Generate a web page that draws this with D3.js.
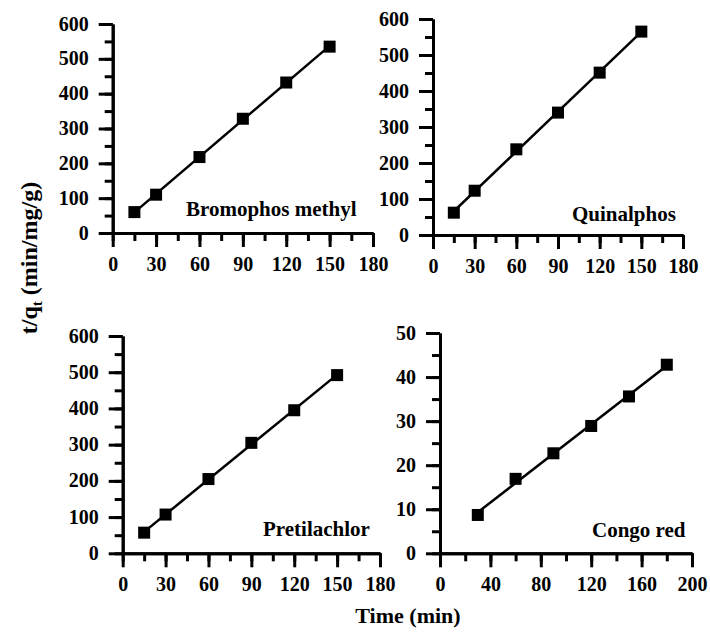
<!DOCTYPE html>
<html>
<head>
<meta charset="utf-8">
<script src="https://cdn.jsdelivr.net/npm/d3@7"></script>
<style>
  body { margin: 0; background: #fff; }
  svg { display: block; }
  text { font-family: "Liberation Serif", "Times New Roman", serif; font-weight: bold; fill: #000; }
</style>
</head>
<body>
<svg width="710" height="634"></svg>
<script>
// sampling times (min)
const times = [15, 30, 60, 90, 120, 150];
const congoTimes = [30, 60, 90, 120, 150, 180];

// t/qt values
const bromophos = [60, 110, 218, 328, 432, 535];
const quinalphos = [62, 123, 238, 340, 451, 565];
const pretilachlor = [57, 107, 205, 305, 395, 492];
const congoRed = [8.7, 16.9, 22.7, 28.9, 35.6, 42.8];

const names = ["Bromophos methyl", "Quinalphos", "Pretilachlor", "Congo red"];
const xs = [times, times, times, congoTimes];
const ys = [bromophos, quinalphos, pretilachlor, congoRed];

// axis ranges: [max, major step]
const xAxes = [[180, 30], [180, 30], [180, 30], [200, 40]];
const yAxes = [[600, 100], [600, 100], [600, 100], [50, 10]];

// pixel boxes of each panel: left, right, bottom, top ; label start x, baseline
const boxes = [
  { l: 112.7, r: 373, b: 233, t: 24, lx: 186, ly: 216 },
  { l: 433, r: 683, b: 235, t: 19, lx: 572, ly: 221 },
  { l: 122.7, r: 380, b: 553.3, t: 336, lx: 263, ly: 536 },
  { l: 440, r: 692, b: 553.3, t: 333, lx: 592, ly: 537 }
];

const svg = d3.select("svg");

function fit(x, y) {
  const mx = d3.mean(x), my = d3.mean(y);
  let sxy = 0, sxx = 0;
  for (let i = 0; i < x.length; i++) {
    sxy += (x[i] - mx) * (y[i] - my);
    sxx += (x[i] - mx) * (x[i] - mx);
  }
  const slope = sxy / sxx;
  return { slope: slope, icpt: my - slope * mx };
}

function styleAxis(sel) {
  sel.select(".domain").attr("stroke", "#000").attr("stroke-width", 3);
  sel.selectAll(".tick line").attr("stroke", "#000").attr("stroke-width", 3);
  sel.attr("font-family", null).attr("font-size", null);
}

names.forEach((name, i) => {
  const box = boxes[i];
  const [xMax, xStep] = xAxes[i];
  const [yMax, yStep] = yAxes[i];

  const x = d3.scaleLinear().domain([0, xMax]).range([box.l, box.r]);
  const y = d3.scaleLinear().domain([0, yMax]).range([box.b, box.t]);

  const g = svg.append("g");

  // minor ticks
  g.append("g")
    .attr("transform", `translate(0,${box.b})`)
    .call(d3.axisBottom(x).tickValues(d3.range(0, xMax + 0.1, xStep / 2)).tickSize(8).tickSizeOuter(0).tickFormat(""))
    .call(styleAxis);
  g.append("g")
    .attr("transform", `translate(${box.l},0)`)
    .call(d3.axisLeft(y).tickValues(d3.range(0, yMax + 0.1, yStep / 2)).tickSize(8).tickSizeOuter(0).tickFormat(""))
    .call(styleAxis);

  // major ticks + labels
  const xa = g.append("g")
    .attr("transform", `translate(0,${box.b})`)
    .call(d3.axisBottom(x).tickValues(d3.range(0, xMax + 0.1, xStep)).tickSize(14).tickSizeOuter(0))
    .call(styleAxis);
  xa.selectAll(".tick text").attr("y", 38).attr("dy", null).style("font-size", "20px");

  const ya = g.append("g")
    .attr("transform", `translate(${box.l},0)`)
    .call(d3.axisLeft(y).tickValues(d3.range(0, yMax + 0.1, yStep)).tickSize(14).tickPadding(10).tickSizeOuter(0))
    .call(styleAxis);
  ya.selectAll(".tick text").attr("dy", "0.3em").style("font-size", "20px");

  // fitted line
  const f = fit(xs[i], ys[i]);
  const x0 = d3.min(xs[i]), x1 = d3.max(xs[i]);
  g.append("line")
    .attr("x1", x(x0)).attr("y1", y(f.slope * x0 + f.icpt))
    .attr("x2", x(x1)).attr("y2", y(f.slope * x1 + f.icpt))
    .attr("stroke", "#000").attr("stroke-width", 2.5);

  // points
  const s = 12;
  g.selectAll("rect.pt")
    .data(xs[i].map((d, k) => [d, ys[i][k]]))
    .enter()
    .append("rect")
    .attr("class", "pt")
    .attr("x", d => x(d[0]) - s / 2)
    .attr("y", d => y(d[1]) - s / 2)
    .attr("width", s).attr("height", s)
    .attr("fill", "#000");

  g.append("text")
    .attr("x", box.lx).attr("y", box.ly)
    .style("font-size", "21px")
    .text(name);
});

// axis titles
const yt = svg.append("text")
  .attr("transform", "translate(37,258) rotate(-90)")
  .attr("text-anchor", "middle")
  .style("font-size", "24px");
yt.append("tspan").text("t/q");
yt.append("tspan").attr("dy", 5).style("font-size", "15px").text("t");
yt.append("tspan").attr("dy", -5).text("\u00a0(min/mg/g)");

svg.append("text")
  .attr("x", 408).attr("y", 623)
  .attr("text-anchor", "middle")
  .style("font-size", "22px")
  .text("Time (min)");
</script>
</body>
</html>
